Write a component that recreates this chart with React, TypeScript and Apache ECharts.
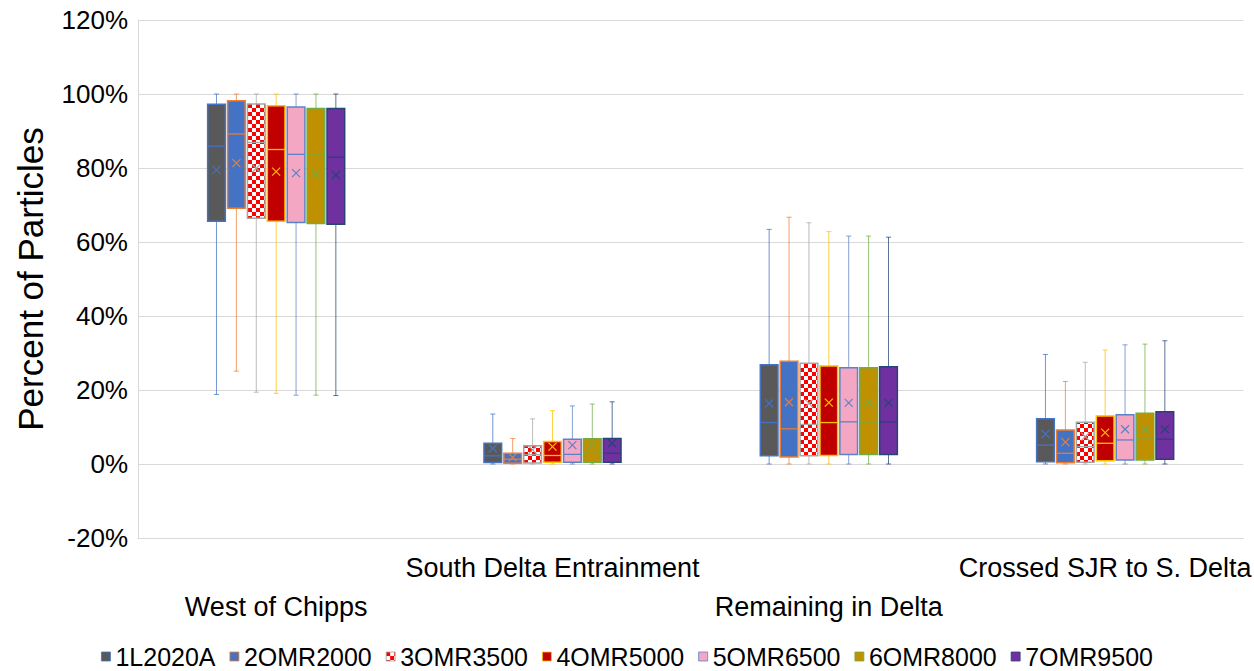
import React, { useEffect, useRef } from 'react';
import * as echarts from 'echarts';

const categories = ['West of Chipps', 'South Delta Entrainment', 'Remaining in Delta', 'Crossed SJR to S. Delta'];
const seriesNames = ['1L2020A', '2OMR2000', '3OMR3500', '4OMR5000', '5OMR6500', '6OMR8000', '7OMR9500'];
const yTickMin = -20;
const yTickMax = 120;
const yTickStep = 20;

// each row: [min, q1, median, q3, max, mean] in %, one row per category
const s1L2020A = [
  [18.8, 65.6, 85.9, 97.2, 100, 79.5],
  [0, 0.4, 2.2, 5.6, 13.5, 4.2],
  [0, 2.2, 11.2, 26.8, 63.4, 16.4],
  [0, 0.6, 5.1, 12.2, 29.6, 8.1],
];
const s2OMR2000 = [
  [25.1, 69.1, 89.2, 98.2, 100, 81.3],
  [0, 0.2, 1.3, 2.9, 6.9, 1.8],
  [0, 1.9, 9.5, 27.8, 66.7, 16.7],
  [0, 0.35, 2.9, 9.2, 22.3, 5.9],
];
const s3OMR3500 = [
  [19.4, 66.4, 86.9, 97.3, 100, 79.9],
  [0, 0.3, 2.5, 4.9, 12.2, 3.8],
  [0, 2.2, 10.7, 27.2, 65.2, 16.4],
  [0, 0.5, 4.7, 11.3, 27.5, 7.4],
];
const s4OMR5000 = [
  [19.1, 65.6, 85.0, 96.8, 100, 79.0],
  [0, 0.5, 2.3, 6.1, 14.4, 4.7],
  [0, 2.3, 11.2, 26.5, 62.8, 16.6],
  [0, 0.9, 5.6, 13.0, 30.8, 8.5],
];
const s5OMR6500 = [
  [18.6, 65.3, 83.7, 96.5, 100, 78.6],
  [0, 0.5, 2.6, 6.7, 15.7, 5.1],
  [0, 2.6, 11.4, 26.0, 61.6, 16.5],
  [0, 1.1, 6.5, 13.3, 32.2, 9.4],
];
const s6OMR8000 = [
  [18.6, 65.0, 83.5, 96.1, 100, 78.4],
  [0, 0.5, 2.9, 6.8, 16.2, 5.1],
  [0, 2.6, 11.4, 26.0, 61.6, 16.5],
  [0, 1.1, 6.7, 13.7, 32.4, 9.4],
];
const s7OMR9500 = [
  [18.5, 64.8, 82.9, 96.1, 100, 78.1],
  [0, 0.5, 2.9, 6.9, 16.8, 5.6],
  [0, 2.6, 11.4, 26.3, 61.3, 16.5],
  [0, 1.3, 6.7, 14.1, 33.3, 9.4],
];
const seriesData = [s1L2020A, s2OMR2000, s3OMR3500, s4OMR5000, s5OMR6500, s6OMR8000, s7OMR9500];

const fillColors = ['#595959', '#4472C4', 'checker', '#C00000', '#F4A7C3', '#BF9000', '#7030A0'];
const lineColors = ['#4472C4', '#ED7D31', '#A5A5A5', '#FFC000', '#5B82C8', '#70AD47', '#264478'];

function makeChecker() {
  const c = document.createElement('canvas');
  c.width = 8;
  c.height = 8;
  const ctx = c.getContext('2d')!;
  ctx.fillStyle = '#FFFFFF';
  ctx.fillRect(0, 0, 8, 8);
  ctx.fillStyle = '#FF0000';
  ctx.fillRect(0, 0, 4, 4);
  ctx.fillRect(4, 4, 4, 4);
  return c;
}

export default function App() {
  const ref = useRef<HTMLDivElement>(null);
  useEffect(() => {
    const chart = echarts.init(ref.current!, null, { renderer: 'svg' });
    const checker: any = { image: makeChecker(), repeat: 'repeat', imageWidth: 8, imageHeight: 8 };
    const fills: any[] = fillColors.map((c) => (c === 'checker' ? checker : c));
    const FONT = "'Liberation Sans', Arial, sans-serif";
    const nS = seriesNames.length;

    const series = seriesNames.map((name, s) => ({
      type: 'custom',
      name,
      itemStyle: { color: fills[s], borderColor: lineColors[s] },
      encode: { x: 0, y: [1, 2, 3, 4, 5, 6] },
      data: seriesData[s].map((r, i) => [i, ...r]),
      renderItem: (params: any, api: any) => {
        const ci = api.value(0);
        const band = api.size([1, 0])[0];
        const cx = api.coord([ci, 0])[0] + (s - (nS - 1) / 2) * band * 0.072;
        const half = band * 0.032;
        const y = (k: number) => api.coord([ci, api.value(k)])[1];
        const yMin = y(1), yQ1 = y(2), yMed = y(3), yQ3 = y(4), yMax = y(5), yMean = y(6);
        const lc = lineColors[s];
        const cap = 2.5;
        const m = 4;
        const wStyle = { stroke: lc, lineWidth: 1, opacity: 0.75 };
        return {
          type: 'group',
          children: [
            { type: 'line', shape: { x1: cx, y1: yMax, x2: cx, y2: yQ3 }, style: wStyle },
            { type: 'line', shape: { x1: cx, y1: yQ1, x2: cx, y2: yMin }, style: wStyle },
            { type: 'line', shape: { x1: cx - cap, y1: yMax, x2: cx + cap, y2: yMax }, style: wStyle },
            { type: 'line', shape: { x1: cx - cap, y1: yMin, x2: cx + cap, y2: yMin }, style: wStyle },
            {
              type: 'rect',
              shape: { x: cx - half, y: yQ3, width: 2 * half, height: yQ1 - yQ3 },
              style: { fill: fills[s], stroke: lc, lineWidth: 1.5 },
            },
            { type: 'line', shape: { x1: cx - half, y1: yMed, x2: cx + half, y2: yMed }, style: { stroke: lc, lineWidth: 1.3 } },
            { type: 'line', shape: { x1: cx - m, y1: yMean - m, x2: cx + m, y2: yMean + m }, style: { stroke: lc, lineWidth: 1.2 } },
            { type: 'line', shape: { x1: cx - m, y1: yMean + m, x2: cx + m, y2: yMean - m }, style: { stroke: lc, lineWidth: 1.2 } },
          ],
        };
      },
    }));

    chart.setOption({
      animation: false,
      backgroundColor: '#FFFFFF',
      grid: { left: 138, right: 7, top: 20, bottom: 133, containLabel: false },
      legend: {
        left: 'center',
        top: 639,
        icon: 'rect',
        itemWidth: 9,
        itemHeight: 9,
        itemGap: 14,
        textStyle: { fontSize: 25, color: '#000', fontFamily: FONT },
        data: seriesNames.map((n, s) => ({
          name: n,
          itemStyle: { color: fills[s], borderColor: lineColors[s], borderWidth: 0.8 },
        })),
      },
      xAxis: {
        type: 'category',
        data: categories,
        axisLine: { show: true, onZero: false, lineStyle: { color: '#D9D9D9', width: 1 } },
        axisTick: { show: false },
        splitLine: { show: false },
        axisLabel: {
          interval: 0,
          fontSize: 27,
          fontFamily: FONT,
          color: '#000',
          lineHeight: 39,
          margin: 10,
          formatter: (v: string, i: number) => (i % 2 === 0 ? '\n' + v : v),
        },
      },
      yAxis: {
        type: 'value',
        min: yTickMin,
        max: yTickMax,
        interval: yTickStep,
        name: 'Percent of Particles',
        nameLocation: 'middle',
        nameGap: 90,
        nameTextStyle: { fontSize: 35, fontFamily: FONT, color: '#000' },
        axisLine: { show: true, lineStyle: { color: '#D9D9D9', width: 1 } },
        axisTick: { show: false },
        splitLine: { show: true, lineStyle: { color: '#D9D9D9', width: 1 } },
        axisLabel: { formatter: '{value}%', fontSize: 26, fontFamily: FONT, color: '#000', margin: 10 },
      },
      series,
    });
    return () => chart.dispose();
  }, []);
  return <div ref={ref} style={{ position: 'absolute', left: 0, top: 0, width: 1254, height: 671 }} />;
}
